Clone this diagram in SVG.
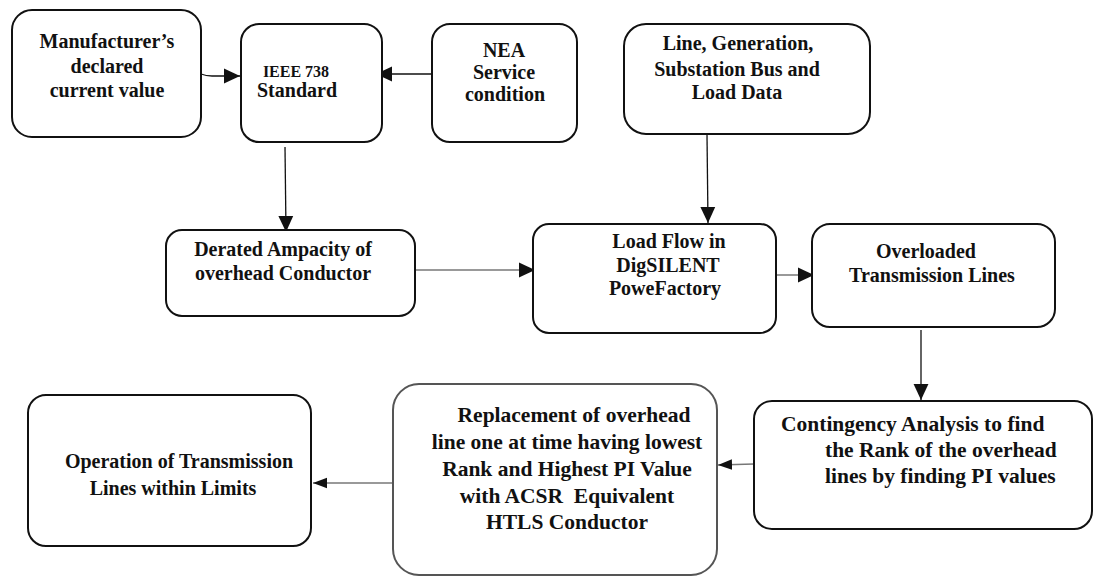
<svg xmlns="http://www.w3.org/2000/svg" width="1094" height="576" viewBox="0 0 1094 576">
<defs>
<style>
.box{fill:#fff;stroke:#111;stroke-width:2}
.box2{fill:#fff;stroke:#555;stroke-width:2}
text{font-family:"Liberation Serif","Times New Roman",serif;font-weight:bold;fill:#111;font-size:20px}
.c{text-anchor:middle}
.s{font-size:16px}
.b{font-size:21.5px}
.pre{white-space:pre}
.k{stroke:#111;stroke-width:1.3;fill:none}
.g{stroke:#777;stroke-width:1.6;fill:none}
</style>
<marker id="ah" markerUnits="userSpaceOnUse" markerWidth="16" markerHeight="16" viewBox="0 0 14 14" refX="14" refY="7" orient="auto">
<path d="M0,0.5 L14,7 L0,13.5 Z" fill="#111"/>
</marker>
<marker id="ahs" markerUnits="userSpaceOnUse" markerWidth="14" markerHeight="14" viewBox="0 0 12 10" refX="12" refY="5" orient="auto">
<path d="M0,0.5 L12,5 L0,9.5 Z" fill="#111"/>
</marker>
</defs>
<rect width="1094" height="576" fill="#fff"/>

<g id="connectors">
<path class="k" d="M201,74 Q206,76 212,76 L240,76" marker-end="url(#ah)"/>
<path class="k" d="M431,74 L376,74" marker-end="url(#ah)"/>
<path class="k" d="M285,147 L286,232" marker-end="url(#ah)"/>
<path class="k" d="M707,135 L708,223" marker-end="url(#ah)"/>
<path class="g" d="M416,270 L535,270" marker-end="url(#ah)"/>
<path class="g" d="M777,275 L814,275" marker-end="url(#ah)"/>
<path class="k" d="M921,330 L921,400" marker-end="url(#ah)"/>
<path class="g" d="M754,464 L718,465" marker-end="url(#ahs)"/>
<path class="g" d="M393,483 L313,483" marker-end="url(#ahs)"/>
</g>

<g id="manufacturer">
<rect class="box" x="12" y="10" width="189" height="127" rx="20"/>
<text class="c" x="107" y="48">Manufacturer’s</text>
<text class="c" x="107" y="73">declared</text>
<text class="c" x="107" y="97">current value</text>
</g>

<g id="ieee">
<rect class="box" x="241" y="24" width="141" height="118" rx="18"/>
<text class="c s" x="296" y="77">IEEE 738</text>
<text class="c" x="297" y="97">Standard</text>
</g>

<g id="nea">
<rect class="box" x="432" y="24" width="145" height="118" rx="18"/>
<text class="c" x="504" y="57">NEA</text>
<text class="c" x="504" y="79">Service</text>
<text class="c" x="505" y="101">condition</text>
</g>

<g id="linedata">
<rect class="box" x="624" y="24" width="246" height="110" rx="22"/>
<text class="c" x="738" y="50">Line, Generation,</text>
<text class="c" x="737" y="76">Substation Bus and</text>
<text class="c" x="737" y="99">Load Data</text>
</g>

<g id="derated">
<rect class="box" x="166" y="230" width="249" height="86" rx="16"/>
<text class="c" x="283" y="256">Derated Ampacity of</text>
<text class="c" x="283" y="280">overhead Conductor</text>
</g>

<g id="loadflow">
<rect class="box" x="533" y="224" width="243" height="109" rx="16"/>
<text class="c" x="669" y="248">Load Flow in</text>
<text class="c" x="668" y="272">DigSILENT</text>
<text class="c" x="665" y="295">PoweFactory</text>
</g>

<g id="overloaded">
<rect class="box" x="812" y="224" width="243" height="103" rx="18"/>
<text class="c" x="926" y="258">Overloaded</text>
<text class="c" x="932" y="282">Transmission Lines</text>
</g>

<g id="contingency">
<rect class="box" x="754" y="401" width="338" height="128" rx="18"/>
<text class="b" x="781" y="431">Contingency Analysis to find</text>
<text class="b" x="825" y="457">the Rank of the overhead</text>
<text class="b" x="825" y="483">lines by finding PI values</text>
</g>

<g id="replacement">
<rect class="box2" x="393" y="384" width="324" height="191" rx="26"/>
<text class="c b" x="574" y="422">Replacement of overhead</text>
<text class="c b" x="567" y="449">line one at time having lowest</text>
<text class="c b" x="567" y="476">Rank and Highest PI Value</text>
<text class="c b pre" x="567" y="503">with ACSR  Equivalent</text>
<text class="c b" x="567" y="529">HTLS Conductor</text>
</g>

<g id="operation">
<rect class="box" x="28" y="395" width="283" height="151" rx="18"/>
<text class="c" x="179" y="468">Operation of Transmission</text>
<text class="c" x="173" y="495">Lines within Limits</text>
</g>
</svg>
